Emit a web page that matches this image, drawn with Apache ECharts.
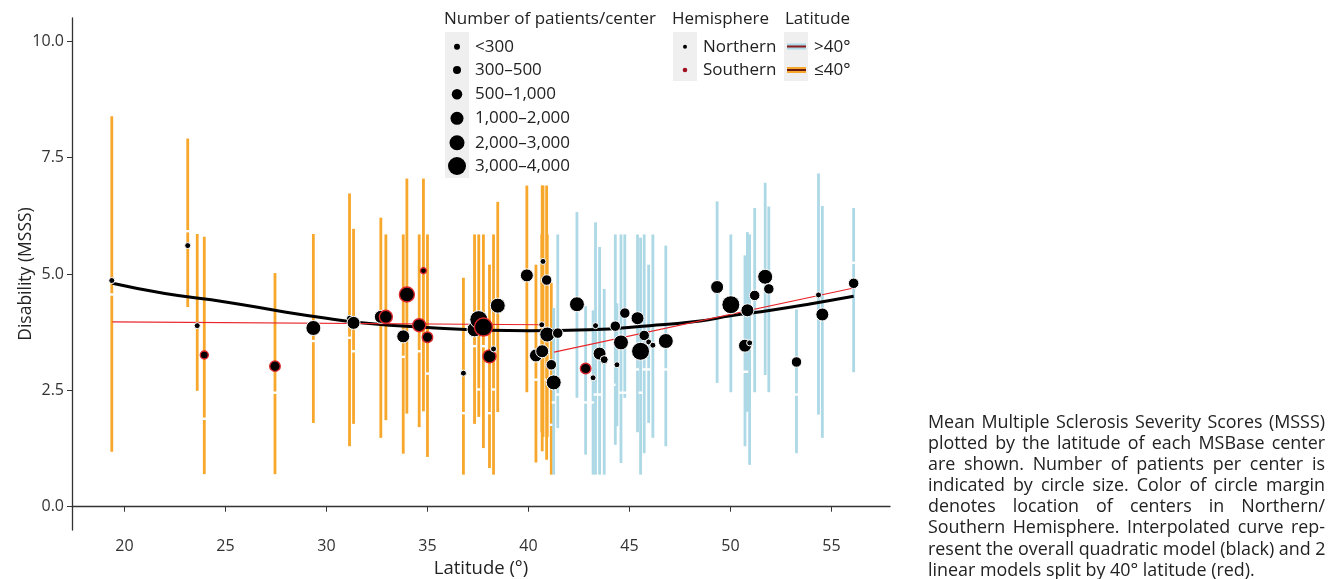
<!DOCTYPE html>
<html>
<head>
<meta charset="utf-8">
<script src="https://cdn.jsdelivr.net/npm/echarts@6/dist/echarts.min.js"></script>
<style>
html, body { margin: 0; background: #fff; }
#wrap { position: relative; width: 1329px; height: 579px; }
#chart { width: 1329px; height: 579px; }
#caption { position: absolute; left: 928px; top: 411px; width: 397px;
  font: 17.9px/21.1px 'Open Sans', sans-serif; color: #222; }
#caption div { text-align: justify; text-align-last: justify; white-space: nowrap; }
#caption div.last { text-align-last: left; }
</style>
</head>
<body>
<div id="wrap">
  <div id="chart"></div>
  <div id="caption">
    <div>Mean Multiple Sclerosis Severity Scores (MSSS)</div>
    <div>plotted by the latitude of each MSBase center</div>
    <div>are shown. Number of patients per center is</div>
    <div>indicated by circle size. Color of circle margin</div>
    <div>denotes location of centers in Northern/</div>
    <div>Southern Hemisphere. Interpolated curve rep-</div>
    <div>resent the overall quadratic model (black) and 2</div>
    <div class="last">linear models split by 40° latitude (red).</div>
  </div>
</div>
<script>
// one entry per center
var lat = [19.37, 23.13, 23.6, 23.95, 27.45, 29.35, 31.14, 31.34, 32.69, 32.94,
    33.8, 33.98, 34.59, 34.8, 35.0, 36.78, 37.33, 37.54, 37.77, 38.07,
    38.27, 38.48, 39.92, 40.37, 40.68, 40.72, 40.66, 40.9, 40.93, 41.13,
    41.25, 41.45, 42.4, 42.83, 43.2, 43.32, 43.52, 43.75, 44.3, 44.38,
    44.58, 44.77, 45.4, 45.55, 45.73, 45.95, 46.16, 46.8, 49.34, 50.02,
    50.72, 50.84, 50.95, 51.2, 51.72, 51.9, 53.27, 54.36, 54.55, 56.1];
var msss = [4.86, 5.61, 3.89, 3.26, 3.02, 3.84, 4.05, 3.95, 4.08, 4.08,
    3.66, 4.56, 3.90, 5.07, 3.64, 2.87, 3.81, 4.02, 3.86, 3.23,
    3.39, 4.32, 4.97, 3.25, 3.34, 5.27, 3.91, 4.87, 3.70, 3.05,
    2.67, 3.73, 4.35, 2.97, 2.77, 3.89, 3.29, 3.16, 3.88, 3.05,
    3.53, 4.16, 4.05, 3.34, 3.68, 3.54, 3.47, 3.56, 4.72, 4.34,
    3.46, 4.22, 3.52, 4.54, 4.94, 4.68, 3.11, 4.55, 4.13, 4.80];
var lo = [1.18, 4.29, 2.49, 0.70, 0.70, 1.80, 1.30, 1.78, 1.48, 1.86,
    1.14, 2.00, 1.71, 2.05, 1.07, 0.69, 1.78, 1.93, 1.26, 0.83,
    0.69, 2.01, 2.46, 0.95, 1.19, 1.50, 1.60, 1.01, 1.50, 0.69,
    0.69, 1.69, 2.34, 1.12, 0.69, 0.69, 0.69, 0.69, 1.33, 1.73,
    0.94, 2.34, 1.60, 0.69, 1.15, 1.80, 1.48, 1.30, 2.66, 2.46,
    1.30, 2.04, 0.90, 2.46, 2.83, 2.46, 1.15, 1.98, 1.48, 2.89];
var hi = [8.39, 7.91, 5.86, 5.80, 5.02, 5.86, 6.73, 5.97, 6.21, 5.85,
    5.85, 7.05, 5.85, 7.05, 5.85, 4.92, 5.85, 5.85, 5.85, 5.20,
    5.85, 6.55, 6.90, 5.20, 6.90, 6.90, 5.85, 6.90, 5.85, 4.81,
    4.27, 5.85, 6.33, 4.31, 4.22, 6.11, 5.58, 4.68, 5.85, 4.37,
    5.85, 5.85, 5.85, 5.78, 5.85, 5.20, 5.85, 5.61, 6.56, 5.85,
    5.40, 5.90, 5.85, 6.42, 6.96, 6.45, 4.24, 7.16, 6.46, 6.42];
// small white notch seen on each range line (null = none visible)
var notch = [4.56, 5.92, null, 1.89, 2.45, 3.56, 3.63, 3.34, null, null,
    3.22, null, 3.34, null, 2.86, 2.01, 3.45, 2.52, 3.45, 2.01,
    2.52, 2.01, null, 2.73, 1.76, null, null, 2.73, null, 1.76,
    2.24, 2.41, null, 2.24, 2.24, 2.41, 2.41, null, 2.62, null,
    2.45, 2.45, 2.95, 2.45, 2.95, 2.95, null, 2.95, null, null,
    2.90, 2.90, null, null, null, null, 2.41, null, null, 5.24];
// 0: <300 ... 5: 3,000-4,000
var sizeCat = [0, 0, 0, 1, 2, 4, 0, 3, 3, 3,
    3, 4, 3, 0, 2, 0, 4, 5, 5, 3,
    0, 4, 3, 3, 3, 0, 0, 2, 4, 2,
    4, 2, 4, 2, 0, 0, 3, 1, 2, 0,
    4, 2, 3, 5, 2, 0, 0, 4, 3, 5,
    3, 3, 0, 2, 4, 2, 2, 0, 3, 2];
var hemi = ['N', 'N', 'N', 'S', 'S', 'N', 'N', 'N', 'N', 'S',
    'N', 'S', 'S', 'S', 'S', 'N', 'N', 'N', 'S', 'S',
    'N', 'N', 'N', 'N', 'N', 'N', 'N', 'N', 'N', 'N',
    'N', 'N', 'N', 'S', 'N', 'N', 'N', 'N', 'N', 'N',
    'N', 'N', 'N', 'N', 'N', 'N', 'N', 'N', 'N', 'N',
    'N', 'N', 'N', 'N', 'N', 'N', 'N', 'N', 'N', 'N'];
// colour of the range line as drawn: O orange (<=40), B light blue (>40)
var band = ['O', 'O', 'O', 'O', 'O', 'O', 'O', 'O', 'O', 'O',
    'O', 'O', 'O', 'O', 'O', 'O', 'O', 'O', 'O', 'O',
    'O', 'O', 'O', 'O', 'O', 'O', 'O', 'O', 'O', 'O',
    'B', 'B', 'B', 'B', 'B', 'B', 'B', 'B', 'B', 'B',
    'B', 'B', 'B', 'B', 'B', 'B', 'B', 'B', 'B', 'B',
    'B', 'B', 'B', 'B', 'B', 'B', 'B', 'B', 'B', 'B'];

// quadratic model curve
var fitLat = [19.4, 22, 25, 28, 30, 32, 35, 38, 40, 43, 46, 48.5, 50, 52, 54, 56.1];
var fitVal = [4.80, 4.58, 4.40, 4.18, 4.05, 3.94, 3.85, 3.79, 3.78, 3.80, 3.89, 3.99, 4.10, 4.22, 4.36, 4.52];
// linear models split by 40 degrees
var redLeftLat = [19.4, 40.7];
var redLeftVal = [3.97, 3.91];
var redRightLat = [41.27, 56.1];
var redRightVal = [3.32, 4.70];

var xTicks = [20, 25, 30, 35, 40, 45, 50, 55];
var yTicks = [0, 2.5, 5, 7.5, 10];

var sizeLabels = ['<300', '300–500', '500–1,000', '1,000–2,000', '2,000–3,000', '3,000–4,000'];
var sizePx = [6, 8, 10.5, 13, 15, 18];

var FONT = "'Open Sans', sans-serif";
var ORANGE = '#F7A72B';
var BLUE = '#ADD8E6';

var barsO = [], barsB = [], pts = [];
for (var i = 0; i < lat.length; i++) {
    var row = [lat[i], lo[i], hi[i], notch[i] == null ? -99 : notch[i]];
    if (band[i] === 'O') barsO.push(row);
    else barsB.push(row);
    pts.push({
        value: [lat[i], msss[i], sizeCat[i]],
        itemStyle: {
            borderColor: hemi[i] === 'S' ? '#D9262B' : '#ffffff',
            borderWidth: hemi[i] === 'S' ? 1.4 : 1
        }
    });
}
function pairs(xs, ys) {
    var out = [];
    for (var i = 0; i < xs.length; i++) out.push([xs[i], ys[i]]);
    return out;
}

function barItem(color) {
    return function (params, api) {
        var p1 = api.coord([api.value(0), api.value(1)]);
        var p2 = api.coord([api.value(0), api.value(2)]);
        var kids = [{
            type: 'line',
            shape: {x1: p1[0], y1: p1[1], x2: p2[0], y2: p2[1]},
            style: {stroke: color, lineWidth: 2.8}
        }];
        if (api.value(3) > -50) {
            var pn = api.coord([api.value(0), api.value(3)]);
            kids.push({
                type: 'rect',
                shape: {x: pn[0] - 2, y: pn[1] - 1.2, width: 4, height: 2.4},
                style: {fill: '#ffffff'}
            });
        }
        return {type: 'group', children: kids};
    };
}

// legend drawn by hand, ggplot style
var g = [];
function label(txt, x, y) {
    g.push({type: 'text', x: x, y: y, style: {text: txt, font: '17px ' + FONT, fill: '#222', verticalAlign: 'middle'}});
}
label('Number of patients/center', 444, 19);
g.push({type: 'rect', shape: {x: 445, y: 32, width: 24, height: 146}, style: {fill: '#EFEFEF'}});
var keyY = [46.7, 70, 94.3, 118.3, 142.7, 166];
for (var k = 0; k < sizeLabels.length; k++) {
    g.push({type: 'circle', shape: {cx: 457, cy: keyY[k], r: sizePx[k] / 2}, style: {fill: '#000'}});
    label(sizeLabels[k], 475, keyY[k]);
}
label('Hemisphere', 672, 19);
g.push({type: 'rect', shape: {x: 673, y: 32, width: 24, height: 49}, style: {fill: '#EFEFEF'}});
g.push({type: 'circle', shape: {cx: 685, cy: 46.7, r: 2}, style: {fill: '#000'}});
g.push({type: 'circle', shape: {cx: 685, cy: 70, r: 2.3}, style: {fill: '#A01020'}});
label('Northern', 703, 46.7);
label('Southern', 703, 70);
label('Latitude', 785, 19);
g.push({type: 'rect', shape: {x: 784, y: 32, width: 24, height: 49}, style: {fill: '#EFEFEF'}});
g.push({type: 'rect', shape: {x: 787, y: 43.5, width: 19, height: 6}, style: {fill: BLUE}});
g.push({type: 'line', shape: {x1: 787, y1: 46.5, x2: 806, y2: 46.5}, style: {stroke: '#8B1A1A', lineWidth: 2}});
g.push({type: 'rect', shape: {x: 787, y: 67, width: 19, height: 6}, style: {fill: ORANGE}});
g.push({type: 'line', shape: {x1: 787, y1: 70, x2: 806, y2: 70}, style: {stroke: '#6B1A10', lineWidth: 2}});
label('>40°', 814, 46.7);
label('≤40°', 814, 70);

var myChart = echarts.init(document.getElementById('chart'));

var option = {
    animation: false,
    grid: {left: 72, right: 439, top: 18, bottom: 49, containLabel: false, outerBoundsMode: 'none'},
    xAxis: {
        type: 'value',
        min: 17.4,
        max: 57.9,
        name: 'Latitude (°)',
        nameLocation: 'middle',
        nameGap: 27,
        nameTextStyle: {fontFamily: FONT, fontSize: 18.5, color: '#222'},
        axisLine: {show: true, lineStyle: {color: '#333', width: 1.3}},
        axisTick: {show: true, length: 5, customValues: xTicks, lineStyle: {color: '#333'}},
        axisLabel: {customValues: xTicks, fontFamily: FONT, fontSize: 16, color: '#333', margin: 8},
        splitLine: {show: false}
    },
    yAxis: {
        type: 'value',
        min: -0.5,
        max: 10.5,
        name: 'Disability (MSSS)',
        nameLocation: 'middle',
        nameGap: 37,
        nameMoveOverlap: false,
        nameTextStyle: {fontFamily: FONT, fontSize: 17.5, color: '#222'},
        axisLine: {show: true, lineStyle: {color: '#333', width: 1.3}},
        axisTick: {show: true, length: 5, customValues: yTicks, lineStyle: {color: '#333'}},
        axisLabel: {
            customValues: yTicks, fontFamily: FONT, fontSize: 16, color: '#333', margin: 8,
            formatter: function (v) { return v.toFixed(1); }
        },
        splitLine: {show: false}
    },
    graphic: g,
    series: [
        {type: 'custom', name: '<=40', data: barsO, renderItem: barItem(ORANGE), z: 1, silent: true},
        {type: 'custom', name: '>40', data: barsB, renderItem: barItem(BLUE), z: 1, silent: true},
        {
            type: 'line', data: pairs(fitLat, fitVal), smooth: true, showSymbol: false,
            lineStyle: {color: '#000', width: 3}, z: 2, silent: true
        },
        {
            type: 'line', data: pairs(redLeftLat, redLeftVal), showSymbol: false,
            lineStyle: {color: '#E8262B', width: 1.2}, z: 2, silent: true
        },
        {
            type: 'line', data: pairs(redRightLat, redRightVal), showSymbol: false,
            lineStyle: {color: '#E8262B', width: 1.2}, z: 2, silent: true
        },
        {
            type: 'scatter', data: pts, z: 3,
            symbolSize: function (v) { return sizePx[v[2]]; },
            itemStyle: {color: '#000', opacity: 1}
        }
    ]
};
myChart.setOption(option);
</script>
</body>
</html>
